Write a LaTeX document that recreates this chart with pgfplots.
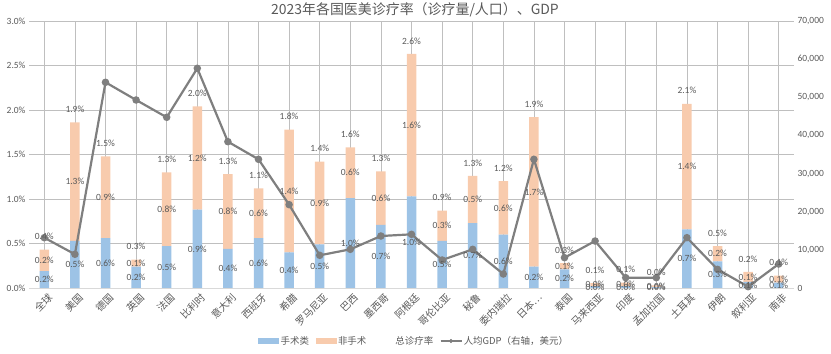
\documentclass[border=0pt]{standalone}
\usepackage{pgfplots}
\pgfplotsset{compat=1.18}
\usepackage{pgfplotstable}
\usepackage{fontspec}
\setmainfont{Carlito}
\newfontfamily\cjk{Noto Sans CJK SC}
\definecolor{surg}{HTML}{9DC3E6}
\definecolor{nons}{HTML}{F8CBAD}
\definecolor{gdp}{HTML}{7F7F7F}
\definecolor{txt}{HTML}{595959}
\definecolor{grid}{HTML}{D9D9D9}

\pgfplotstableread{
x s n t g
0 0.19 0.24 0.43 13190
1 0.53 1.33 1.86 8840
2 0.56 0.92 1.48 53930
3 0.24 0.08 0.32 49290
4 0.47 0.83 1.30 44750
5 0.88 1.16 2.04 57600
6 0.44 0.84 1.28 38360
7 0.56 0.56 1.12 33740
8 0.40 1.38 1.78 21850
9 0.49 0.93 1.42 8570
10 1.01 0.57 1.58 10140
11 0.71 0.60 1.31 13630
12 1.03 1.60 2.63 14070
13 0.53 0.34 0.87 7340
14 0.73 0.53 1.26 10140
15 0.60 0.60 1.20 3670
16 0.24 1.68 1.92 33740
17 0.21 0.07 0.28 7950
18 0.02 0.036 0.056 12320
19 0.02 0.04 0.06 2710
20 0.01 0.02 0.03 2700
21 0.66 1.41 2.07 13190
22 0.30 0.17 0.47 4890
23 0.07 0.11 0.18 350
24 0.06 0.08 0.14 6290
}\data

\pgfplotsset{
  common/.style={
    at={(0,0)}, anchor=south west,
    scale only axis, width=765bp, height=267bp,
    xmin=-0.5, xmax=24.5,
    /pgf/number format/assume math mode=true,
    major tick length=0pt,
    tick label style={font=\fontsize{9.5}{11}\selectfont, text=txt},
  },
  lbl/.style={draw=none, mark=none, point meta=explicit,
    nodes near coords={\pgfmathprintnumber[fixed,fixed zerofill,precision=1]{\pgfplotspointmeta}\%},
    every node near coord/.append style={font=\fontsize{9.5}{10}\selectfont, text=txt, anchor=center, inner sep=0pt}},
}

\begin{document}
\begin{tikzpicture}
\path[use as bounding box] (-29bp,-66bp) rectangle (802bp,288bp);

\begin{axis}[common,
  ybar stacked, bar width=9.5bp,
  ymin=0, ymax=3,
  ytick={0,0.5,...,3},
  yticklabel={\pgfmathprintnumber[fixed,fixed zerofill,precision=1]{\tick}\%},
  ymajorgrids, grid style={grid, line width=0.8bp},
  axis x line*=bottom, axis y line*=left,
  x axis line style={draw=grid, line width=0.8bp},
  y axis line style={draw=none},
  xtick={0,...,24},
  xticklabels={全球,美国,德国,英国,法国,比利时,意大利,西班牙,希腊,罗马尼亚,巴西,墨西哥,阿根廷,哥伦比亚,秘鲁,委内瑞拉,日本…,泰国,马来西亚,印度,孟加拉国,土耳其,伊朗,叙利亚,南非},
  xticklabel style={font=\cjk\fontsize{10}{11}\selectfont, rotate=45, anchor=north east, inner sep=1bp, yshift=-4bp},
  legend style={at={(0.503,-0.1985)}, anchor=center, draw=none, fill=none,
    legend columns=-1, font=\cjk\fontsize{9.5}{11}\selectfont, text=txt,
    /tikz/every even column/.append style={column sep=5bp},
    /tikz/every odd column/.append style={column sep=0bp},
    inner sep=0pt, nodes={inner xsep=1.5bp}},
]
\addplot[fill=surg, draw=none, legend image code/.code={\fill[surg] (0bp,-3bp) rectangle (21bp,3bp);}] table[x=x, y=s] {\data};
\addlegendentry{手术类}
\addplot[fill=nons, draw=none, legend image code/.code={\fill[nons] (0bp,-3bp) rectangle (21bp,3bp);}] table[x=x, y=n] {\data};
\addlegendentry{非手术}
\addlegendimage{draw=none, fill=none, legend image code/.code={\path[draw=none, fill=none] (0bp,-3bp) rectangle (21bp,3bp);}}
\addlegendentry{总诊疗率}
\addlegendimage{legend image code/.code={\draw[gdp, line width=1.5bp] (0bp,0bp) -- (21bp,0bp); \fill[gdp] (10.5bp,0bp) circle (1.8bp);}}
\addlegendentry{人均GDP（右轴，美元）}
\end{axis}

\begin{axis}[common,
  ymin=0, ymax=70000,
  ytick={0,10000,...,70000},
  scaled y ticks=false,
  yticklabel style={/pgf/number format/.cd, fixed, 1000 sep={,}},
  axis x line=none, axis y line*=right,
  y axis line style={draw=none},
  clip=false,
]
\addplot[gdp, line width=2.2bp, mark=*, mark size=2.6bp, mark options={fill=gdp, draw=gdp}] table[x=x, y=g] {\data};
\end{axis}

\begin{axis}[common, hide axis, ymin=0, ymax=3, clip=false]
\addplot[lbl] table[x=x, y expr=\thisrow{s}/2, meta=s] {\data};
\addplot[lbl] table[x=x, y expr=\thisrow{s}+\thisrow{n}/2, meta=n] {\data};
\addplot[lbl, every node near coord/.append style={yshift=13bp}] table[x=x, y=t, meta=t] {\data};
\end{axis}

\node[text=txt, font=\cjk\fontsize{14}{16}\selectfont] at (386bp,278bp) {2023年各国医美诊疗率（诊疗量/人口）、GDP};
\end{tikzpicture}
\end{document}
